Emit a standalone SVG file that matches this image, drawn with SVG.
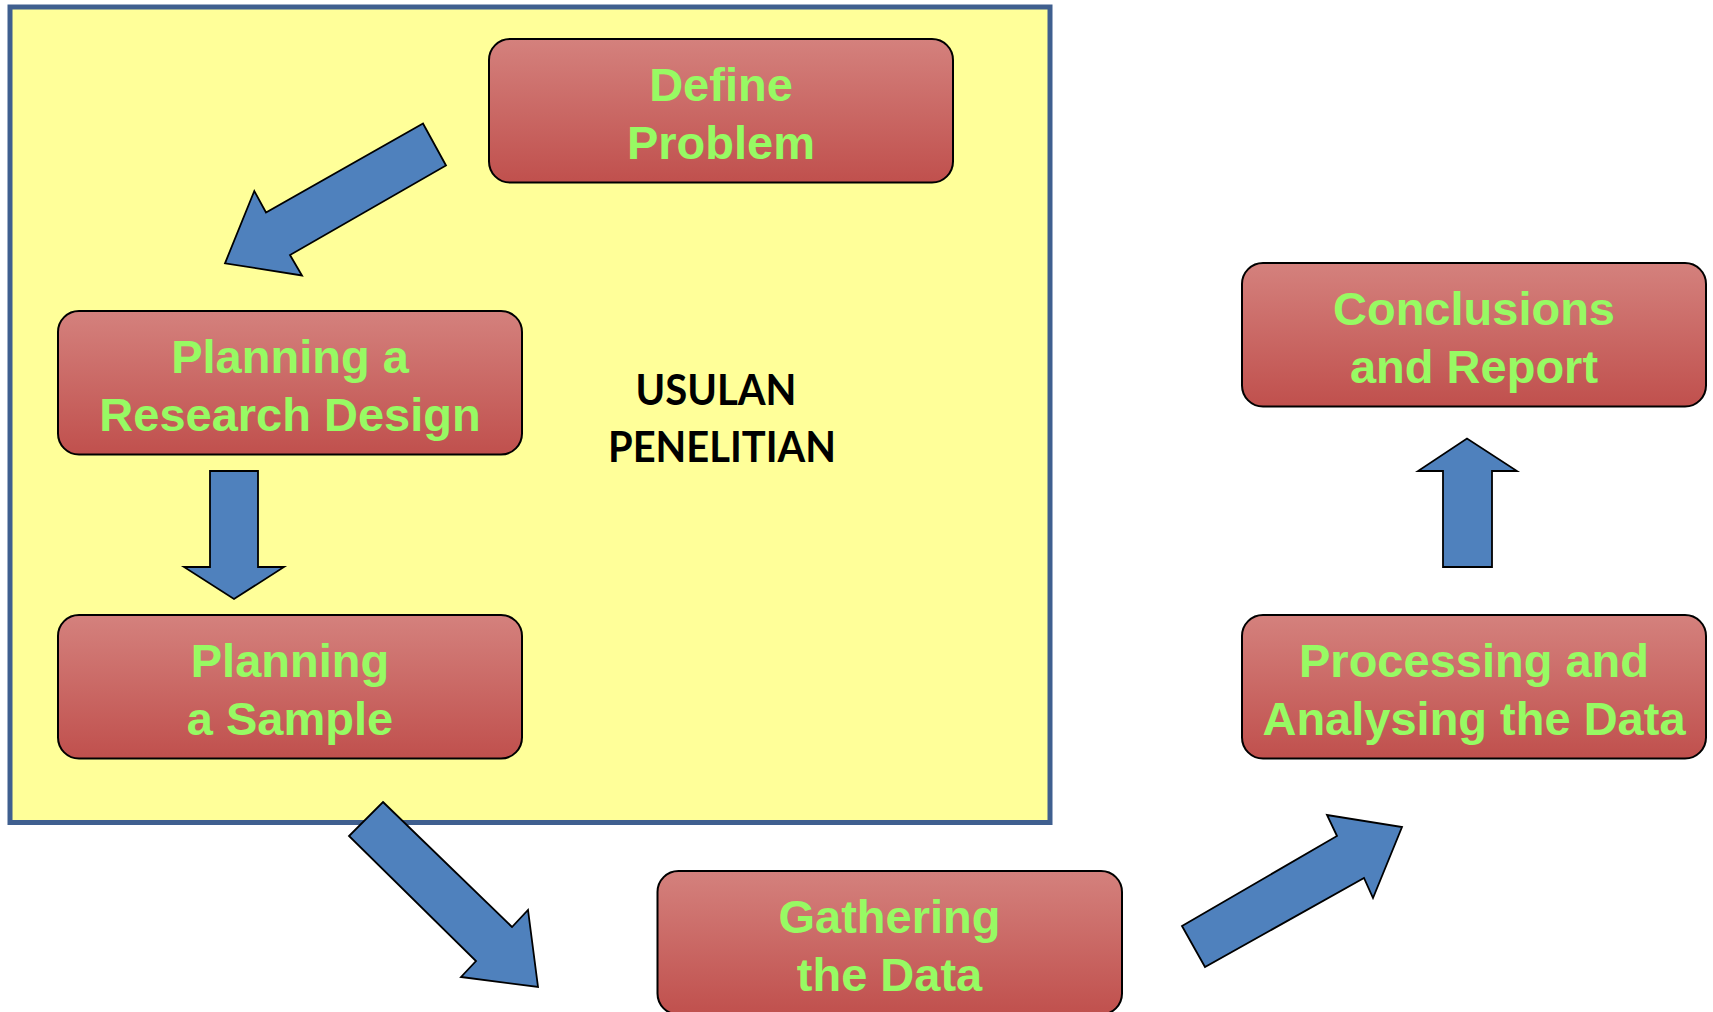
<svg xmlns="http://www.w3.org/2000/svg" width="1713" height="1012" viewBox="0 0 1713 1012">
<defs>
<linearGradient id="boxGrad" x1="0" y1="0" x2="0" y2="1">
<stop offset="0" stop-color="#D4817D"/>
<stop offset="1" stop-color="#C0504D"/>
</linearGradient>
<style>
.box{fill:url(#boxGrad);stroke:#000;stroke-width:2}
.lbl{font-family:"Liberation Sans",Arial,sans-serif;font-weight:bold;font-size:47px;fill:#97FA63;text-anchor:middle}
.arr{fill:#4F81BD;stroke:#000;stroke-width:1.8;stroke-linejoin:miter}
.title{font-family:Lato,"Open Sans",sans-serif;font-weight:bold;font-size:42px;fill:#000;text-anchor:middle}
</style>
</defs>
<rect width="1713" height="1012" fill="#fff"/>
<g id="usulan-area">
<rect x="10" y="7" width="1040" height="815.5" fill="#FFFF99" stroke="#3F5F8F" stroke-width="5"/>
<text class="title" x="716" y="405" textLength="161" lengthAdjust="spacingAndGlyphs">USULAN</text>
<text class="title" x="722" y="462" textLength="228" lengthAdjust="spacingAndGlyphs">PENELITIAN</text>
</g>
<g id="connectors">
<polygon class="arr" points="423,123.5 266,212.5 254.3,191 225,263.3 302,275.5 290,255 446,165.5"/>
<polygon class="arr" points="210,471 258,471 258,567 284,567 234,599 184,567 210,567"/>
<polygon class="arr" points="383,802 512,927 528,910 538,987 461,977 476,961 349,836"/>
<polygon class="arr" points="1182,926 1337,836 1327,815 1402,827 1373,898 1364,878 1205,967"/>
<polygon class="arr" points="1443,567 1443,471 1418,471 1467,438.5 1517,471 1492,471 1492,567"/>
</g>
<g id="define-problem">
<rect class="box" x="489" y="39" width="464" height="143.5" rx="21" ry="21"/>
<text class="lbl" x="721" y="101">Define</text>
<text class="lbl" x="721" y="158.5">Problem</text>
</g>
<g id="research-design">
<rect class="box" x="58" y="311" width="464" height="143.5" rx="21" ry="21"/>
<text class="lbl" x="290" y="373">Planning a</text>
<text class="lbl" x="290" y="430.5">Research Design</text>
</g>
<g id="sample">
<rect class="box" x="58" y="615" width="464" height="143.5" rx="21" ry="21"/>
<text class="lbl" x="290" y="677">Planning</text>
<text class="lbl" x="290" y="734.5">a Sample</text>
</g>
<g id="gathering">
<rect class="box" x="657.5" y="871" width="464.5" height="143.5" rx="21" ry="21"/>
<text class="lbl" x="889.5" y="933">Gathering</text>
<text class="lbl" x="889.5" y="990.5">the Data</text>
</g>
<g id="conclusions">
<rect class="box" x="1242" y="263" width="464" height="143.5" rx="21" ry="21"/>
<text class="lbl" x="1474" y="325">Conclusions</text>
<text class="lbl" x="1474" y="382.5">and Report</text>
</g>
<g id="processing">
<rect class="box" x="1242" y="615" width="464" height="143.5" rx="21" ry="21"/>
<text class="lbl" x="1474" y="677">Processing and</text>
<text class="lbl" x="1474" y="734.5">Analysing the Data</text>
</g>
</svg>
